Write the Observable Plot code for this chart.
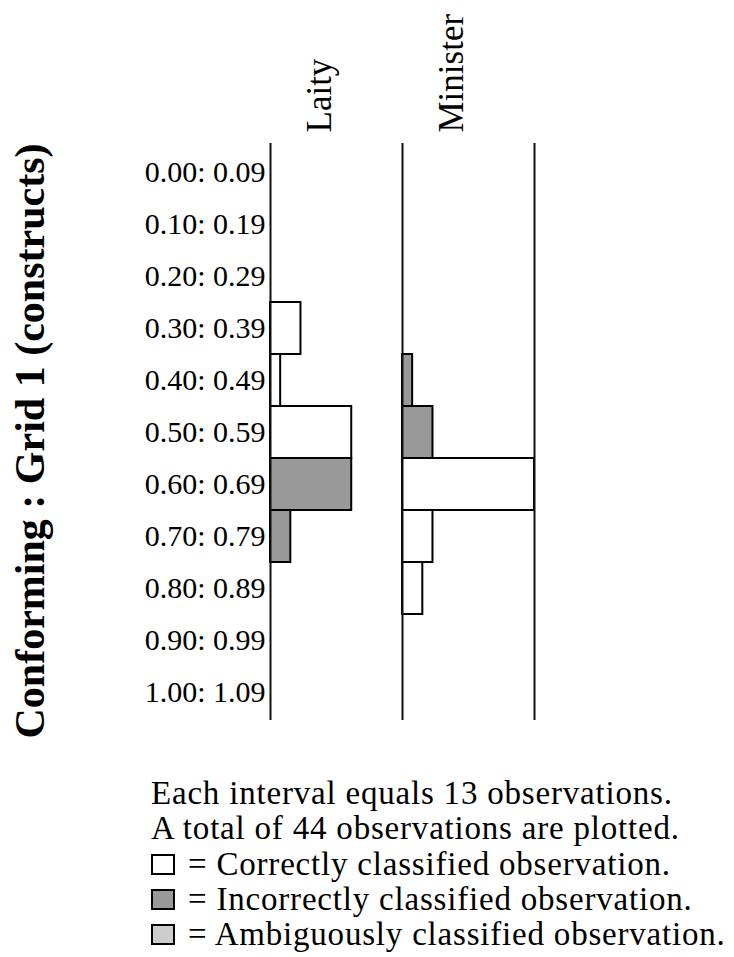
<!DOCTYPE html>
<html>
<head>
<meta charset="utf-8">
<script src="https://cdn.jsdelivr.net/npm/d3@7"></script>
<script src="https://cdn.jsdelivr.net/npm/@observablehq/plot@0.6"></script>
<style>
  html, body { margin: 0; padding: 0; background: #fff; }
  #chart svg { display: block; }
  #legend {
    font-family: "Liberation Serif", "Times New Roman", serif;
    font-size: 33px;
    line-height: 35.3px;
    letter-spacing: 0.8px;
    color: #000;
    padding-left: 151px;
    margin-top: 36px;
    white-space: nowrap;
  }
  #legend .sw {
    display: inline-block;
    width: 20px; height: 17px;
    border: 2px solid #000;
    margin-right: 13px;
    vertical-align: baseline;
  }
</style>
</head>
<body>
<div id="chart"></div>
<div id="legend"></div>
<script>
// ---- data ----
const intervals = ["0.00: 0.09","0.10: 0.19","0.20: 0.29","0.30: 0.39","0.40: 0.49","0.50: 0.59","0.60: 0.69","0.70: 0.79","0.80: 0.89","0.90: 0.99","1.00: 1.09"];
const groups = ["Laity", "Minister"];
const laityCorrect      = [0,0,0,3,1,8,0,0,0,0,0];
const laityIncorrect    = [0,0,0,0,0,0,8,2,0,0,0];
const ministerCorrect   = [0,0,0,0,0,0,13,3,2,0,0];
const ministerIncorrect = [0,0,0,0,1,3,0,0,0,0,0];
const intervalCount = 13;
const yTitle = "Conforming : Grid 1 (constructs)";
const classes = ["Correctly", "Incorrectly", "Ambiguously"];
const classColors = ["#ffffff", "#999999", "#cccccc"];

// ---- table ----
const rows = [];
const series = [
  ["Laity", "Correctly", laityCorrect],
  ["Laity", "Incorrectly", laityIncorrect],
  ["Minister", "Correctly", ministerCorrect],
  ["Minister", "Incorrectly", ministerIncorrect]
];
for (const [g, c, vals] of series) {
  vals.forEach((v, i) => { if (v > 0) rows.push({group: g, cls: c, interval: intervals[i], count: v}); });
}
const total = d3.sum(rows, d => d.count);
const serif = "Liberation Serif";

const rules = [
  {group: "Laity", x: 0},
  {group: "Minister", x: 0},
  {group: "Minister", x: intervalCount}
];

const chart = Plot.plot({
  width: 734,
  height: 740,
  marginLeft: 270,
  marginRight: 200,
  marginTop: 143,
  marginBottom: 20,
  style: {fontFamily: serif, fontSize: "30px", color: "#000", background: "#fff"},
  fx: {domain: groups, padding: 0, axis: null, label: null},
  x: {domain: [0, intervalCount], axis: null},
  y: {domain: intervals, padding: 0, tickSize: 0, tickPadding: 5, label: null},
  color: {domain: classes, range: classColors},
  marks: [
    Plot.barX(rows, {
      fx: "group", y: "interval", x: "count",
      fill: "cls", stroke: "#000", strokeWidth: 2
    }),
    Plot.ruleX(rules, {fx: "group", x: "x", stroke: "#111", strokeWidth: 2}),
    Plot.text(groups, {
      fx: d => d, text: d => d, frameAnchor: "top", rotate: -90,
      textAnchor: "start", dy: -11, dx: -30, fontSize: 35, fontFamily: serif, fill: "#000"
    }),
    Plot.text([yTitle], {
      fx: () => "Laity", text: d => d, frameAnchor: "left", rotate: -90,
      textAnchor: "middle", dx: -240, dy: 9, fontSize: 42, fontWeight: "bold", fontFamily: serif, fill: "#000"
    })
  ]
});
document.getElementById("chart").appendChild(chart);

// ---- legend ----
const legend = document.getElementById("legend");
const lines = [
  `Each interval equals ${intervalCount} observations.`,
  `A total of ${total} observations are plotted.`
];
for (const t of lines) {
  const div = document.createElement("div");
  div.textContent = t;
  legend.appendChild(div);
}
const legendTexts = [
  "= Correctly classified observation.",
  "= Incorrectly classified observation.",
  "= Ambiguously classified observation."
];
classes.forEach((c, i) => {
  const div = document.createElement("div");
  const sw = document.createElement("span");
  sw.className = "sw";
  sw.style.background = classColors[i];
  div.appendChild(sw);
  div.appendChild(document.createTextNode(legendTexts[i]));
  legend.appendChild(div);
});
</script>
</body>
</html>
